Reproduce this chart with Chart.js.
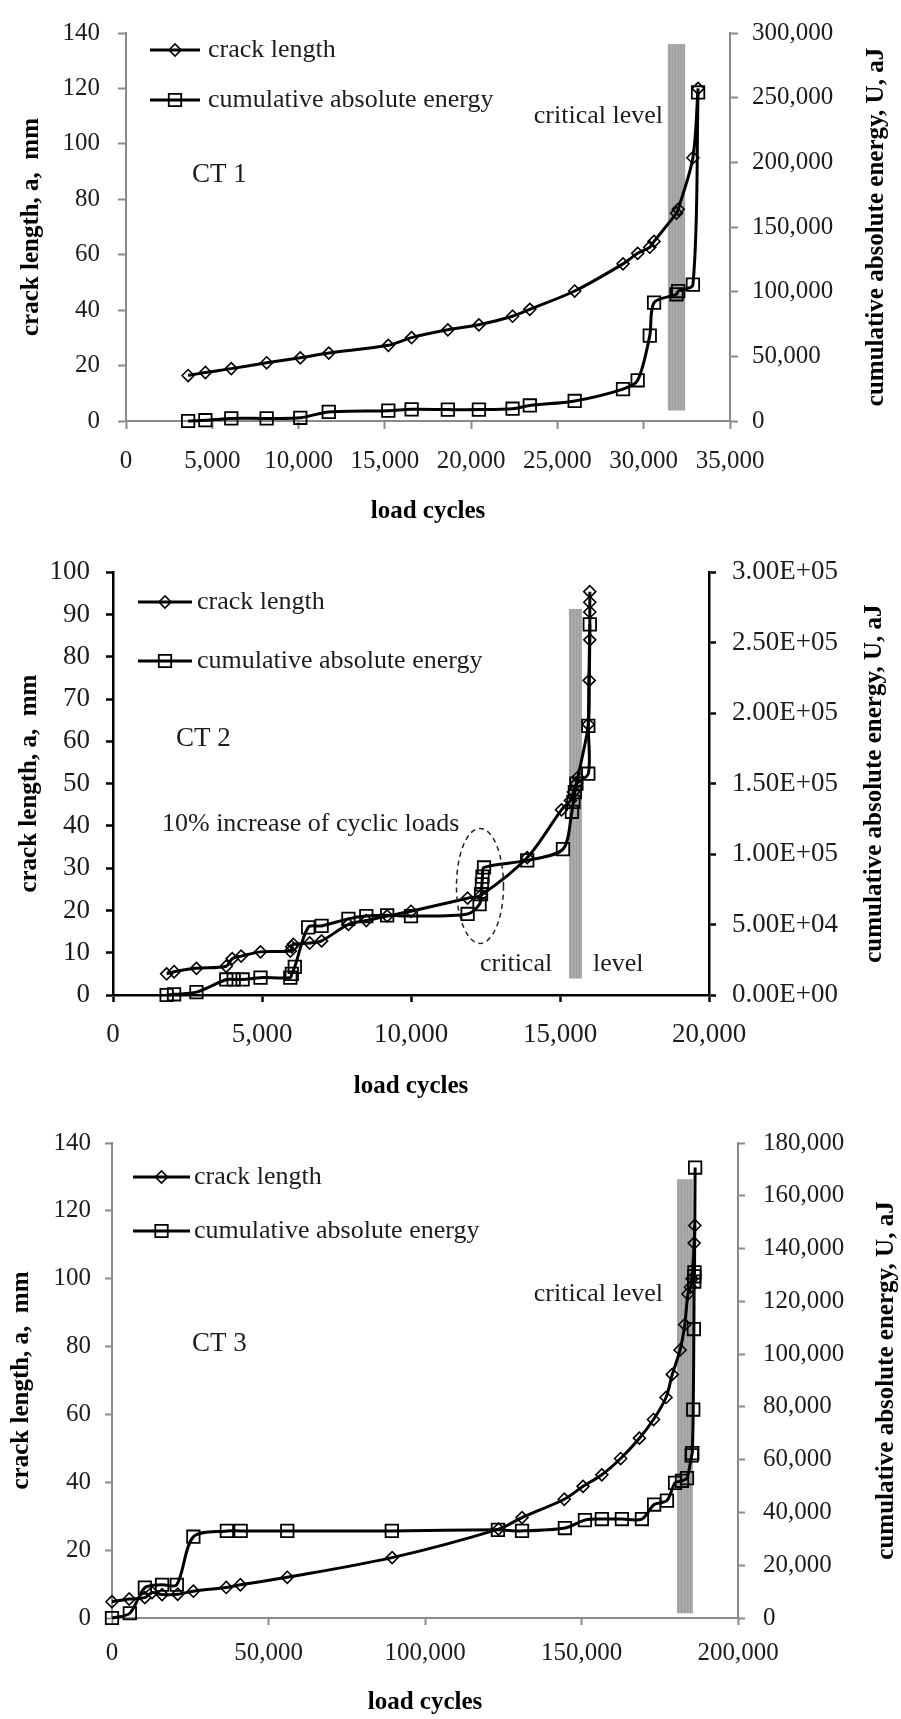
<!DOCTYPE html>
<html><head><meta charset="utf-8">
<script src="https://cdn.jsdelivr.net/npm/chart.js@4/dist/chart.umd.min.js"></script>
<style>
html,body{margin:0;padding:0;background:#fff;}
body{width:901px;height:1719px;position:relative;overflow:hidden;}
canvas{position:absolute;left:0;}
</style></head><body>
<canvas id="c1" width="901" height="540" style="top:0px"></canvas>
<canvas id="c2" width="901" height="575" style="top:540px"></canvas>
<canvas id="c3" width="901" height="609" style="top:1110px"></canvas>
<script>
// ---------------- data ----------------
const seriesNames = ['crack length', 'cumulative absolute energy'];
const xTitle = 'load cycles';
const leftTitle = 'crack length, a,  mm';
const rightTitle = 'cumulative absolute energy, U, aJ';

// CT 1
const ct1Cycles = [3600, 4600, 6100, 8150, 10100, 11750, 15200, 16550, 18650, 20450, 22400, 23400, 26000, 28800, 29650, 30350, 30600, 31900, 32000, 32850, 33150];
const ct1CrackLength = [16.4, 17.5, 18.9, 21.0, 22.8, 24.5, 27.3, 30.1, 32.9, 34.7, 37.8, 40.3, 46.9, 56.7, 60.5, 62.7, 64.8, 75.0, 76.4, 95.0, 120];
const ct1Energy = [0, 600, 2000, 2000, 2500, 7000, 8000, 9000, 8800, 8800, 9500, 12000, 15500, 24700, 31500, 66000, 91500, 98000, 100500, 105500, 254000];
const ct1XAxis = [0, 35000, 5000];
const ct1LeftAxis = [0, 140, 20];
const ct1RightAxis = [0, 300000, 50000];

// CT 2
const ct2CrackCycles = [1800, 2050, 2800, 3800, 4000, 4300, 4950, 5950, 6000, 6050, 6600, 7000, 7900, 8500, 9200, 10000, 11900, 12350, 13900, 15050, 15350, 15450, 15550, 15600, 15950, 15980, 16000, 16000, 16000, 16000];
const ct2CrackLength = [5.0, 5.5, 6.3, 6.8, 8.6, 9.2, 10.2, 10.4, 11.4, 12.0, 12.3, 12.8, 16.7, 17.6, 18.7, 19.8, 22.9, 23.6, 32.5, 43.8, 46.0, 48.0, 50.0, 51.5, 64.0, 74.4, 84.0, 90.6, 92.9, 95.4];
const ct2EnergyCycles = [1800, 2050, 2800, 3800, 4050, 4350, 4950, 5950, 6000, 6100, 6550, 7000, 7900, 8500, 9200, 10000, 11900, 12300, 12350, 12380, 12400, 12450, 13900, 15100, 15400, 15450, 15500, 15550, 15950, 15950, 16000];
const ct2Energy = [0, 500, 2000, 11000, 11000, 11000, 12300, 12300, 15000, 20000, 48000, 49000, 54000, 56000, 56500, 56000, 57500, 64500, 71500, 78500, 84000, 90500, 95500, 103500, 130000, 137000, 144000, 150000, 157000, 191000, 263000];
const ct2XAxis = [0, 20000, 5000];
const ct2LeftAxis = [0, 100, 10];
const ct2RightAxis = [0, 300000, 50000];

// CT 3
const ct3CrackCycles = [0, 5500, 10500, 12800, 16000, 21000, 26000, 36500, 41000, 56000, 89500, 123500, 131000, 144500, 150500, 156500, 162500, 168500, 173000, 177000, 179000, 181500, 183000, 184000, 184800, 185300, 186000, 186200];
const ct3CrackLength = [4.8, 5.6, 6.0, 7.5, 6.9, 7.0, 7.9, 9.0, 9.8, 12.0, 17.8, 26.2, 29.6, 35.0, 38.8, 42.2, 47.0, 53.0, 58.5, 65.0, 71.8, 79.0, 86.5, 95.5, 97.5, 100.0, 110.5, 115.7];
const ct3EnergyCycles = [0, 5700, 10500, 16000, 20700, 26000, 36700, 41100, 56000, 89400, 123300, 131000, 144700, 151100, 156500, 162900, 169300, 173200, 177300, 179900, 182100, 183700, 185200, 185400, 185700, 185900, 186000, 186050, 186100, 186300];
const ct3Energy = [0, 1800, 11500, 12600, 12600, 30800, 33000, 33000, 33000, 33000, 33400, 33000, 34100, 37100, 37500, 37500, 37500, 43000, 44500, 51200, 52000, 53000, 61600, 62500, 79000, 109500, 127500, 129500, 131000, 170700];
const ct3XAxis = [0, 200000, 50000];
const ct3LeftAxis = [0, 140, 20];
const ct3RightAxis = [0, 180000, 20000];

// ---------------- helpers ----------------
const SERIF = '"Liberation Serif", "Times New Roman", Times, serif';
const TEXT = '#1c1c1c';

function sci(v) {
  if (v === 0) return '0.00E+00';
  const e = Math.floor(Math.log10(v) + 1e-9);
  const m = v / Math.pow(10, e);
  return m.toFixed(2) + 'E' + (e < 0 ? '-' : '+') + String(Math.abs(e)).padStart(2, '0');
}
function comma(v) { return Number(v).toLocaleString('en-US'); }

const decoPlugin = {
  id: 'deco',
  beforeDatasetsDraw(chart, args, o) {
    const ctx = chart.ctx, sx = chart.scales.x, sy = chart.scales.y;
    const b = o.band;
    const x1 = sx.getPixelForValue(b[0]), x2 = sx.getPixelForValue(b[1]);
    const y1 = sy.getPixelForValue(b[3]), y2 = sy.getPixelForValue(b[2]);
    ctx.save();
    ctx.fillStyle = '#ababab';
    ctx.fillRect(x1, y1, x2 - x1, y2 - y1);
    ctx.strokeStyle = 'rgba(140,140,140,0.45)';
    ctx.lineWidth = 1;
    for (let x = x1 + 1.5; x < x2; x += 3) {
      ctx.beginPath(); ctx.moveTo(x, y1); ctx.lineTo(x, y2); ctx.stroke();
    }
    ctx.restore();
  },
  afterDatasetsDraw(chart, args, o) {
    const ctx = chart.ctx, sx = chart.scales.x, sy = chart.scales.y;
    ctx.save();
    // texts
    (o.texts || []).forEach(t => {
      ctx.font = (t.size || 26) + 'px ' + SERIF;
      ctx.fillStyle = TEXT;
      ctx.textAlign = t.align || 'left';
      ctx.textBaseline = 'middle';
      ctx.fillText(t.text, sx.getPixelForValue(t.x), sy.getPixelForValue(t.y));
    });
    // ellipse
    if (o.ellipse) {
      const e = o.ellipse;
      const cx = sx.getPixelForValue(e[0]), cy = sy.getPixelForValue(e[1]);
      const rx = Math.abs(sx.getPixelForValue(e[0] + e[2]) - cx);
      const ry = Math.abs(sy.getPixelForValue(e[1] + e[3]) - cy);
      ctx.beginPath();
      ctx.setLineDash([5, 4]);
      ctx.lineWidth = 1.5;
      ctx.strokeStyle = '#222';
      ctx.ellipse(cx, cy, rx, ry, 0, 0, Math.PI * 2);
      ctx.stroke();
      ctx.setLineDash([]);
    }
    // legend
    const L = o.legend;
    chart.data.datasets.forEach((ds, i) => {
      const y = L.ys[i];
      ctx.strokeStyle = '#000';
      ctx.lineWidth = 3;
      ctx.beginPath(); ctx.moveTo(L.x1, y); ctx.lineTo(L.x2, y); ctx.stroke();
      ctx.fillStyle = 'rgba(0,0,0,0)';
      ctx.lineWidth = ds.pointBorderWidth;
      Chart.helpers.drawPoint(ctx, {
        pointStyle: ds.pointStyle, radius: ds.pointRadius, rotation: 0,
        borderWidth: ds.pointBorderWidth
      }, (L.x1 + L.x2) / 2, y);
      ctx.font = L.size + 'px ' + SERIF;
      ctx.fillStyle = TEXT;
      ctx.textAlign = 'left';
      ctx.textBaseline = 'middle';
      ctx.fillText(ds.label, L.textX, y);
    });
    // right axis title (reads bottom to top)
    const ca = chart.chartArea;
    ctx.translate(o.rightTitleX, (ca.top + ca.bottom) / 2);
    ctx.rotate(-Math.PI / 2);
    ctx.font = 'bold 25px ' + SERIF;
    ctx.fillStyle = '#000';
    ctx.textAlign = 'center';
    ctx.textBaseline = 'middle';
    ctx.fillText(rightTitle, 0, 0);
    ctx.restore();
  }
};

function build(id, s) {
  const g = s.geom;
  const tickFont = { family: SERIF, size: s.tickSize, lineHeight: 1.2 };
  const titleFont = { family: SERIF, size: 25, weight: 'bold', lineHeight: 1.2 };
  const grid = { drawOnChartArea: false, drawTicks: true, tickLength: g.tickLen, tickColor: s.axisColor, tickWidth: s.axisWidth };
  const border = { color: s.axisColor, width: s.axisWidth };
  const pts = (xs, ys) => xs.map((x, i) => ({ x: x, y: ys[i] }));
  const common = {
    showLine: true, borderColor: '#000', borderWidth: 3, tension: 0.3, clip: false,
    pointBackgroundColor: 'rgba(0,0,0,0)', pointBorderColor: '#000', fill: false
  };
  new Chart(document.getElementById(id), {
    type: 'scatter',
    data: {
      datasets: [
        Object.assign({ label: seriesNames[0], data: pts(s.crackX, s.crackY), yAxisID: 'y',
          pointStyle: 'rectRot', pointRadius: 6, pointBorderWidth: 1.6 }, common),
        Object.assign({ label: seriesNames[1], data: pts(s.energyX, s.energyY), yAxisID: 'y1',
          pointStyle: 'rect', pointRadius: 8.8, pointBorderWidth: 1.8 }, common)
      ]
    },
    options: {
      responsive: false, animation: false, devicePixelRatio: 1,
      layout: { padding: { top: g.top, left: 0, right: 0, bottom: 0 } },
      plugins: { legend: { display: false }, tooltip: { enabled: false }, deco: s.deco },
      scales: {
        x: {
          type: 'linear', position: 'bottom', min: s.xAxis[0], max: s.xAxis[1],
          ticks: { stepSize: s.xAxis[2], font: tickFont, color: TEXT, padding: g.xPad, maxRotation: 0, autoSkip: false, callback: v => comma(v) },
          grid: grid, border: border,
          title: { display: true, text: xTitle, font: titleFont, color: '#000', padding: { top: 0, bottom: g.xTitlePad } },
          afterFit: sc => { sc.height = g.xH; }
        },
        y: {
          type: 'linear', position: 'left', min: s.leftAxis[0], max: s.leftAxis[1],
          ticks: { stepSize: s.leftAxis[2], font: tickFont, color: TEXT, padding: g.yPad },
          grid: grid, border: border,
          title: { display: true, text: leftTitle, font: titleFont, color: '#000', padding: { top: g.yTitlePad, bottom: 0 } },
          afterFit: sc => { sc.width = g.left; }
        },
        y1: {
          type: 'linear', position: 'right', min: s.rightAxis[0], max: s.rightAxis[1],
          ticks: { stepSize: s.rightAxis[2], font: tickFont, color: TEXT, padding: g.y1Pad, callback: s.rightFmt },
          grid: grid, border: border,
          afterFit: sc => { sc.width = 901 - g.right; }
        }
      }
    },
    plugins: [decoPlugin]
  });
}

build('c1', {
  crackX: ct1Cycles, crackY: ct1CrackLength, energyX: ct1Cycles, energyY: ct1Energy,
  xAxis: ct1XAxis, leftAxis: ct1LeftAxis, rightAxis: ct1RightAxis, rightFmt: v => comma(v),
  tickSize: 25, axisColor: '#8a8a8a', axisWidth: 2,
  geom: { top: 21, left: 126, right: 730, xH: 119, tickLen: 8, xPad: 17, yPad: 18, y1Pad: 14, xTitlePad: 13, yTitlePad: 17 },
  deco: {
    band: [31400, 32400, 3.8, 136],
    texts: [
      { text: 'CT 1', x: 3825, y: 88.9, size: 27 },
      { text: 'critical level', x: 31117, y: 109.9, size: 26, align: 'right' }
    ],
    legend: { x1: 150, x2: 200, textX: 208, ys: [50, 100], size: 26 },
    rightTitleX: 877
  }
});

build('c2', {
  crackX: ct2CrackCycles, crackY: ct2CrackLength, energyX: ct2EnergyCycles, energyY: ct2Energy,
  xAxis: ct2XAxis, leftAxis: ct2LeftAxis, rightAxis: ct2RightAxis, rightFmt: v => sci(v),
  tickSize: 27, axisColor: '#000', axisWidth: 2.5,
  geom: { top: 16, left: 113, right: 709, xH: 120, tickLen: 7, xPad: 17, yPad: 16, y1Pad: 16, xTitlePad: 13, yTitlePad: 15 },
  deco: {
    band: [15300, 15740, 3.9, 91.3],
    texts: [
      { text: 'CT 2', x: 2114, y: 60.5, size: 27 },
      { text: '10% increase of cyclic loads', x: 1644, y: 40.4, size: 26 },
      { text: 'critical', x: 12315, y: 7.3, size: 26 },
      { text: 'level', x: 16107, y: 7.3, size: 26 }
    ],
    ellipse: [12315, 25.8, 789, 13.6],
    legend: { x1: 138, x2: 192, textX: 197, ys: [62, 121], size: 26 },
    rightTitleX: 875
  }
});

build('c3', {
  crackX: ct3CrackCycles, crackY: ct3CrackLength, energyX: ct3EnergyCycles, energyY: ct3Energy,
  xAxis: ct3XAxis, leftAxis: ct3LeftAxis, rightAxis: ct3RightAxis, rightFmt: v => comma(v),
  tickSize: 25, axisColor: '#8a8a8a', axisWidth: 2,
  geom: { top: 23, left: 112, right: 738, xH: 101, tickLen: 7, xPad: 13, yPad: 14, y1Pad: 18, xTitlePad: 1, yTitlePad: 7 },
  deco: {
    band: [180500, 185600, 1.4, 129.3],
    texts: [
      { text: 'CT 3', x: 25560, y: 80.8, size: 27 },
      { text: 'critical level', x: 176038, y: 95.5, size: 26, align: 'right' }
    ],
    legend: { x1: 133, x2: 190, textX: 194, ys: [67, 121], size: 26 },
    rightTitleX: 887
  }
});
</script>
</body></html>
